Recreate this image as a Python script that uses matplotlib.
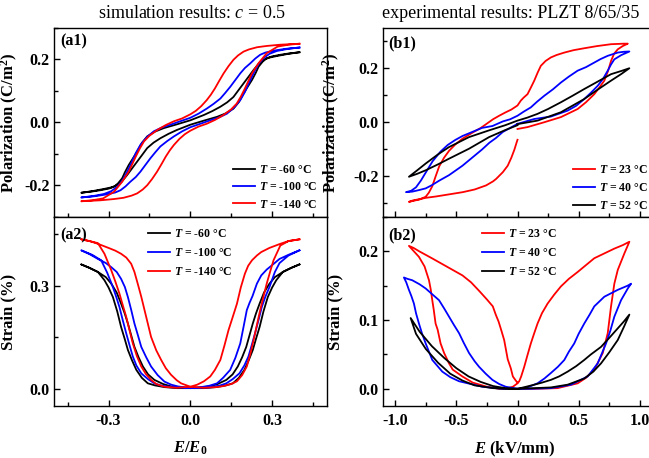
import matplotlib
matplotlib.use("Agg")
import matplotlib.pyplot as plt
from matplotlib.ticker import MultipleLocator

plt.rcParams['font.family'] = 'Liberation Serif'
plt.rcParams['font.weight'] = 'bold'
plt.rcParams['mathtext.fontset'] = 'custom'
plt.rcParams['mathtext.rm'] = 'Liberation Serif:bold'
plt.rcParams['mathtext.bf'] = 'Liberation Serif:bold'
plt.rcParams['mathtext.it'] = 'Liberation Serif:italic:normal'
plt.rcParams['mathtext.bfit'] = 'Liberation Serif:bold:italic'
plt.rcParams['axes.unicode_minus'] = False

# ---- (a1) simulated P-E loops, c = 0.5 ----
sim_labels = [r"$\mathbfit{T}$ = -60 °C", r"$\mathbfit{T}$ = -100 °C", r"$\mathbfit{T}$ = -140 °C"]
sim_colors = ['black', 'blue', 'red']

# descending branch (+0.4 -> -0.4) then ascending branch (-0.4 -> +0.4)
a1_E_60 = [0.40, 0.36, 0.317, 0.29, 0.268, 0.25, 0.232, 0.214, 0.195, 0.176, 0.158, 0.135, 0.11, 0.08, 0.05, 0.0,
           -0.05, -0.098, -0.13, -0.158, -0.178, -0.195, -0.21, -0.226, -0.24, -0.25, -0.265, -0.28, -0.30, -0.33, -0.36, -0.40,
           -0.36, -0.317, -0.29, -0.268, -0.25, -0.232, -0.214, -0.195, -0.176, -0.158, -0.135, -0.11, -0.08, -0.05, 0.0,
           0.05, 0.098, 0.13, 0.158, 0.178, 0.195, 0.21, 0.226, 0.24, 0.25, 0.265, 0.28, 0.30, 0.33, 0.36, 0.40]
a1_P_60 = [0.223, 0.218, 0.211, 0.206, 0.199, 0.186, 0.167, 0.146, 0.124, 0.102, 0.081, 0.064, 0.050, 0.036, 0.024, 0.007,
           -0.006, -0.018, -0.029, -0.044, -0.065, -0.092, -0.113, -0.135, -0.158, -0.177, -0.193, -0.204, -0.210, -0.215, -0.219, -0.223,
           -0.218, -0.211, -0.206, -0.199, -0.186, -0.167, -0.146, -0.124, -0.102, -0.081, -0.064, -0.050, -0.036, -0.024, -0.007,
           0.006, 0.018, 0.029, 0.044, 0.065, 0.092, 0.113, 0.135, 0.158, 0.177, 0.193, 0.204, 0.210, 0.215, 0.219, 0.223]

a1_E_100 = [0.40, 0.35, 0.305, 0.275, 0.256, 0.238, 0.22, 0.2, 0.183, 0.165, 0.146, 0.128, 0.11, 0.085, 0.06, 0.03, 0.0,
            -0.04, -0.073, -0.105, -0.134, -0.16, -0.183, -0.2, -0.214, -0.226, -0.238, -0.252, -0.268, -0.29, -0.317, -0.36, -0.40,
            -0.35, -0.305, -0.275, -0.256, -0.238, -0.22, -0.2, -0.183, -0.165, -0.146, -0.128, -0.11, -0.085, -0.06, -0.03, 0.0,
            0.04, 0.073, 0.105, 0.134, 0.16, 0.183, 0.2, 0.214, 0.226, 0.238, 0.252, 0.268, 0.29, 0.317, 0.36, 0.40]
a1_P_100 = [0.238, 0.234, 0.228, 0.222, 0.215, 0.203, 0.188, 0.173, 0.156, 0.135, 0.113, 0.094, 0.076, 0.059, 0.044, 0.028, 0.015,
            0.003, -0.007, -0.016, -0.028, -0.047, -0.071, -0.097, -0.124, -0.146, -0.167, -0.188, -0.204, -0.218, -0.227, -0.234, -0.238,
            -0.234, -0.228, -0.222, -0.215, -0.203, -0.188, -0.173, -0.156, -0.135, -0.113, -0.094, -0.076, -0.059, -0.044, -0.028, -0.015,
            -0.003, 0.007, 0.016, 0.028, 0.047, 0.071, 0.097, 0.124, 0.146, 0.167, 0.188, 0.204, 0.218, 0.227, 0.234, 0.238]

a1_E_140 = [0.40, 0.33, 0.28, 0.245, 0.215, 0.195, 0.175, 0.158, 0.14, 0.122, 0.105, 0.09, 0.075, 0.06, 0.04, 0.02, 0.0,
            -0.03, -0.06, -0.09, -0.12, -0.15, -0.17, -0.185, -0.20, -0.213, -0.226, -0.25, -0.28, -0.32, -0.36, -0.40,
            -0.33, -0.28, -0.245, -0.215, -0.195, -0.175, -0.158, -0.14, -0.122, -0.105, -0.09, -0.075, -0.06, -0.04, -0.02, 0.0,
            0.03, 0.06, 0.09, 0.12, 0.15, 0.17, 0.185, 0.20, 0.213, 0.226, 0.25, 0.28, 0.32, 0.36, 0.40]
a1_P_140 = [0.250, 0.247, 0.243, 0.239, 0.232, 0.225, 0.213, 0.199, 0.179, 0.156, 0.131, 0.108, 0.088, 0.071, 0.052, 0.037, 0.026,
            0.013, 0.004, -0.008, -0.023, -0.042, -0.060, -0.082, -0.108, -0.132, -0.156, -0.188, -0.220, -0.241, -0.247, -0.250,
            -0.247, -0.243, -0.239, -0.232, -0.225, -0.213, -0.199, -0.179, -0.156, -0.131, -0.108, -0.088, -0.071, -0.052, -0.037, -0.026,
            -0.013, -0.004, 0.008, 0.023, 0.042, 0.060, 0.082, 0.108, 0.132, 0.156, 0.188, 0.220, 0.241, 0.247, 0.250]

# ---- (a2) simulated strain loops ----
a2_E_60 = [0.40, 0.37, 0.339, 0.31, 0.29, 0.27, 0.254, 0.241, 0.229, 0.217, 0.205, 0.19, 0.174, 0.155, 0.132, 0.1, 0.071, 0.035, 0.0,
           -0.05, -0.095, -0.13, -0.156, -0.178, -0.198, -0.214, -0.229, -0.241, -0.254, -0.268, -0.284, -0.3, -0.315, -0.339, -0.37, -0.40,
           -0.37, -0.339, -0.31, -0.29, -0.27, -0.254, -0.241, -0.229, -0.217, -0.205, -0.19, -0.174, -0.155, -0.132, -0.1, -0.071, -0.035, 0.0,
           0.05, 0.095, 0.13, 0.156, 0.178, 0.198, 0.214, 0.229, 0.241, 0.254, 0.268, 0.284, 0.3, 0.315, 0.339, 0.37, 0.40]
a2_S_60 = [0.362, 0.352, 0.340, 0.325, 0.306, 0.280, 0.248, 0.220, 0.190, 0.156, 0.122, 0.092, 0.065, 0.042, 0.026, 0.014, 0.007, 0.004, 0.002,
           0.002, 0.005, 0.010, 0.016, 0.032, 0.055, 0.083, 0.113, 0.146, 0.180, 0.225, 0.267, 0.295, 0.316, 0.340, 0.352, 0.362,
           0.352, 0.340, 0.325, 0.306, 0.280, 0.248, 0.220, 0.190, 0.156, 0.122, 0.092, 0.065, 0.042, 0.026, 0.014, 0.007, 0.004, 0.002,
           0.002, 0.005, 0.010, 0.016, 0.032, 0.055, 0.083, 0.113, 0.146, 0.180, 0.225, 0.267, 0.295, 0.316, 0.340, 0.352, 0.362]

a2_E_100 = [0.40, 0.36, 0.327, 0.30, 0.28, 0.26, 0.244, 0.228, 0.217, 0.207, 0.195, 0.183, 0.165, 0.146, 0.12, 0.098, 0.07, 0.04, 0.0,
            -0.071, -0.11, -0.132, -0.155, -0.18, -0.198, -0.211, -0.223, -0.235, -0.248, -0.26, -0.272, -0.284, -0.305, -0.327, -0.36, -0.40,
            -0.37, -0.339, -0.31, -0.29, -0.27, -0.254, -0.24, -0.229, -0.217, -0.205, -0.192, -0.18, -0.162, -0.144, -0.12, -0.095, -0.07, -0.046, 0.0,
            0.07, 0.11, 0.132, 0.155, 0.18, 0.198, 0.213, 0.225, 0.237, 0.25, 0.262, 0.275, 0.29, 0.31, 0.327, 0.36, 0.40]
a2_S_100 = [0.403, 0.390, 0.378, 0.360, 0.347, 0.330, 0.306, 0.270, 0.250, 0.229, 0.180, 0.132, 0.090, 0.055, 0.032, 0.016, 0.009, 0.005, 0.002,
            0.005, 0.010, 0.016, 0.028, 0.045, 0.068, 0.094, 0.127, 0.161, 0.200, 0.238, 0.268, 0.296, 0.338, 0.374, 0.390, 0.403,
            0.392, 0.378, 0.366, 0.354, 0.340, 0.320, 0.296, 0.267, 0.230, 0.190, 0.155, 0.122, 0.092, 0.065, 0.040, 0.021, 0.012, 0.007, 0.002,
            0.004, 0.010, 0.016, 0.028, 0.045, 0.068, 0.094, 0.127, 0.161, 0.200, 0.238, 0.268, 0.296, 0.340, 0.366, 0.388, 0.403]

a2_E_140 = [0.40, 0.36, 0.33, 0.29, 0.26, 0.244, 0.226, 0.212, 0.20, 0.185, 0.171, 0.155, 0.14, 0.125, 0.11, 0.09, 0.073, 0.05, 0.025, 0.0,
            -0.05, -0.095, -0.125, -0.144, -0.163, -0.18, -0.196, -0.211, -0.223, -0.235, -0.248, -0.26, -0.275, -0.29, -0.315, -0.339, -0.37, -0.40,
            -0.37, -0.339, -0.30, -0.275, -0.254, -0.235, -0.217, -0.205, -0.193, -0.18, -0.168, -0.156, -0.144, -0.125, -0.107, -0.09, -0.071, -0.05, -0.034, 0.0,
            0.05, 0.095, 0.122, 0.15, 0.171, 0.19, 0.207, 0.22, 0.232, 0.244, 0.256, 0.268, 0.28, 0.293, 0.305, 0.33, 0.36, 0.40]
a2_S_140 = [0.435, 0.430, 0.422, 0.410, 0.398, 0.388, 0.374, 0.358, 0.335, 0.295, 0.248, 0.208, 0.171, 0.126, 0.084, 0.055, 0.036, 0.022, 0.012, 0.006,
            0.003, 0.006, 0.014, 0.026, 0.043, 0.065, 0.095, 0.132, 0.170, 0.209, 0.244, 0.277, 0.312, 0.345, 0.393, 0.424, 0.430, 0.435,
            0.430, 0.422, 0.410, 0.402, 0.393, 0.382, 0.364, 0.340, 0.306, 0.268, 0.229, 0.190, 0.151, 0.112, 0.084, 0.060, 0.041, 0.025, 0.016, 0.006,
            0.003, 0.005, 0.008, 0.014, 0.022, 0.040, 0.065, 0.102, 0.142, 0.186, 0.229, 0.268, 0.306, 0.342, 0.374, 0.417, 0.430, 0.435]

# ---- (b1) measured P-E loops, PLZT 8/65/35 ----
exp_labels = [r"$\mathbfit{T}$ = 23 °C", r"$\mathbfit{T}$ = 40 °C", r"$\mathbfit{T}$ = 52 °C"]
exp_colors = ['red', 'blue', 'black']

b1_E_23 = [0.0, 0.082, 0.219, 0.355, 0.492, 0.56, 0.628, 0.67, 0.71, 0.74, 0.765, 0.79, 0.82, 0.86, 0.902,
           0.87, 0.82, 0.765, 0.65, 0.546, 0.46, 0.383, 0.32, 0.273, 0.23, 0.191, 0.165, 0.137, 0.11, 0.082, 0.05, 0.027, 0.0,
           -0.05, -0.1, -0.15, -0.2, -0.25, -0.3, -0.37, -0.45, -0.51, -0.56, -0.6, -0.64, -0.67, -0.697, -0.725, -0.751, -0.8, -0.84, -0.888,
           -0.858, -0.75, -0.667, -0.53, -0.448, -0.35, -0.257, -0.2, -0.175, -0.12, -0.08, -0.05, -0.025, -0.008, 0.0]
b1_P_23 = [-0.024, -0.017, 0.001, 0.020, 0.050, 0.075, 0.105, 0.130, 0.155, 0.190, 0.228, 0.255, 0.271, 0.283, 0.292,
           0.292, 0.291, 0.290, 0.283, 0.275, 0.268, 0.259, 0.250, 0.241, 0.228, 0.210, 0.185, 0.155, 0.130, 0.105, 0.092, 0.081, 0.063,
           0.048, 0.037, 0.025, 0.012, -0.004, -0.020, -0.038, -0.060, -0.082, -0.105, -0.130, -0.162, -0.200, -0.236, -0.260, -0.275, -0.285, -0.289, -0.294,
           -0.289, -0.279, -0.274, -0.264, -0.258, -0.248, -0.233, -0.218, -0.209, -0.184, -0.160, -0.130, -0.100, -0.075, -0.064]

b1_E_40 = [0.0, 0.137, 0.273, 0.41, 0.48, 0.546, 0.6, 0.656, 0.7, 0.738, 0.765, 0.792, 0.85, 0.915,
           0.87, 0.82, 0.738, 0.68, 0.628, 0.56, 0.492, 0.42, 0.355, 0.29, 0.219, 0.16, 0.109, 0.05, 0.0,
           -0.06, -0.12, -0.205, -0.29, -0.37, -0.45, -0.51, -0.57, -0.63, -0.695, -0.75, -0.79, -0.83, -0.87, -0.912,
           -0.86, -0.803, -0.751, -0.7, -0.639, -0.56, -0.45, -0.37, -0.29, -0.23, -0.178, -0.12, -0.068, 0.0]
b1_P_40 = [-0.005, 0.013, 0.022, 0.044, 0.062, 0.087, 0.110, 0.136, 0.162, 0.192, 0.215, 0.234, 0.250, 0.263,
           0.262, 0.259, 0.247, 0.235, 0.222, 0.205, 0.192, 0.170, 0.148, 0.123, 0.099, 0.077, 0.056, 0.040, 0.025,
           0.012, 0.004, -0.013, -0.020, -0.035, -0.050, -0.065, -0.083, -0.108, -0.144, -0.185, -0.215, -0.240, -0.253, -0.258,
           -0.256, -0.250, -0.244, -0.232, -0.215, -0.195, -0.160, -0.130, -0.100, -0.075, -0.058, -0.035, -0.022, -0.005]

b1_E_52 = [0.0, 0.164, 0.355, 0.546, 0.65, 0.765, 0.85, 0.915,
           0.85, 0.765, 0.65, 0.546, 0.45, 0.355, 0.25, 0.164, 0.08, 0.0,
           -0.1, -0.232, -0.396, -0.56, -0.65, -0.751, -0.82, -0.888,
           -0.82, -0.751, -0.65, -0.56, -0.396, -0.232, -0.1, 0.0]
b1_P_52 = [-0.006, 0.007, 0.038, 0.087, 0.120, 0.155, 0.180, 0.201,
           0.191, 0.179, 0.150, 0.124, 0.099, 0.075, 0.050, 0.032, 0.018, 0.007,
           -0.010, -0.029, -0.054, -0.091, -0.118, -0.152, -0.177, -0.201,
           -0.190, -0.177, -0.155, -0.134, -0.097, -0.054, -0.028, -0.010]

# ---- (b2) measured strain loops ----
b2_E_23 = [0.0, 0.137, 0.328, 0.492, 0.56, 0.628, 0.697, 0.738, 0.765, 0.792, 0.82, 0.874, 0.915,
           0.86, 0.792, 0.71, 0.628, 0.56, 0.492, 0.42, 0.355, 0.3, 0.246, 0.2, 0.164, 0.135, 0.109, 0.08, 0.055, 0.03, 0.014, 0.0,
           -0.038, -0.1, -0.148, -0.25, -0.366, -0.451, -0.53, -0.56, -0.6, -0.629, -0.653, -0.67, -0.685, -0.697, -0.71, -0.724, -0.76, -0.806, -0.888,
           -0.85, -0.803, -0.7, -0.6, -0.53, -0.45, -0.38, -0.311, -0.25, -0.202, -0.178, -0.155, -0.134, -0.109, -0.08, -0.055, -0.038, -0.014, 0.0]
b2_S_23 = [0.000, 0.000, 0.001, 0.008, 0.016, 0.028, 0.052, 0.081, 0.120, 0.153, 0.173, 0.197, 0.214,
           0.209, 0.204, 0.197, 0.190, 0.180, 0.170, 0.160, 0.149, 0.137, 0.124, 0.110, 0.095, 0.080, 0.066, 0.048, 0.032, 0.018, 0.011, 0.008,
           0.003, 0.000, 0.000, 0.003, 0.009, 0.018, 0.028, 0.037, 0.052, 0.066, 0.086, 0.095, 0.115, 0.129, 0.145, 0.158, 0.178, 0.192, 0.208,
           0.205, 0.200, 0.190, 0.180, 0.173, 0.165, 0.155, 0.142, 0.130, 0.120, 0.108, 0.098, 0.086, 0.071, 0.043, 0.030, 0.018, 0.012, 0.009]

b2_E_40 = [0.0, 0.1, 0.273, 0.437, 0.574, 0.656, 0.724, 0.76, 0.792, 0.847, 0.902, 0.929,
           0.9, 0.82, 0.71, 0.628, 0.59, 0.546, 0.5, 0.464, 0.42, 0.383, 0.33, 0.273, 0.22, 0.164, 0.08, 0.0,
           -0.123, -0.287, -0.478, -0.55, -0.615, -0.697, -0.751, -0.78, -0.806, -0.83, -0.847, -0.868, -0.888, -0.91, -0.929,
           -0.9, -0.861, -0.8, -0.751, -0.7, -0.642, -0.6, -0.56, -0.52, -0.478, -0.44, -0.396, -0.35, -0.314, -0.26, -0.205, -0.15, -0.096, 0.0]
b2_S_40 = [0.000, 0.000, 0.001, 0.006, 0.018, 0.037, 0.066, 0.085, 0.105, 0.129, 0.146, 0.153,
           0.150, 0.144, 0.134, 0.120, 0.108, 0.095, 0.080, 0.066, 0.054, 0.042, 0.032, 0.023, 0.015, 0.008, 0.002, 0.000,
           0.000, 0.003, 0.011, 0.017, 0.025, 0.042, 0.066, 0.080, 0.095, 0.110, 0.124, 0.135, 0.144, 0.155, 0.162,
           0.160, 0.158, 0.152, 0.146, 0.138, 0.129, 0.117, 0.105, 0.093, 0.081, 0.067, 0.052, 0.040, 0.032, 0.022, 0.013, 0.007, 0.003, 0.000]

b2_E_52 = [0.0, 0.137, 0.273, 0.41, 0.546, 0.62, 0.683, 0.75, 0.82, 0.87, 0.915,
           0.87, 0.82, 0.75, 0.683, 0.6, 0.546, 0.48, 0.41, 0.34, 0.273, 0.2, 0.137, 0.07, 0.0,
           -0.1, -0.2, -0.35, -0.45, -0.55, -0.65, -0.75, -0.83, -0.874,
           -0.8, -0.7, -0.6, -0.5, -0.4, -0.3, -0.2, -0.1, 0.0]
b2_S_52 = [0.000, 0.001, 0.002, 0.006, 0.015, 0.025, 0.037, 0.053, 0.071, 0.090, 0.108,
           0.098, 0.088, 0.074, 0.061, 0.050, 0.042, 0.033, 0.025, 0.018, 0.013, 0.009, 0.006, 0.003, 0.000,
           0.000, 0.001, 0.005, 0.012, 0.022, 0.038, 0.058, 0.080, 0.103,
           0.083, 0.062, 0.045, 0.030, 0.018, 0.010, 0.004, 0.001, 0.000]

fig = plt.figure(figsize=(6.49, 4.58), dpi=100)
W, H = 649.0, 458.0

def box(x0, x1, y0, y1):
    # pixel box -> figure fraction rect
    return [x0 / W, 1 - y1 / H, (x1 - x0) / W, (y1 - y0) / H]

ax_a1 = fig.add_axes(box(54, 326.7, 28, 217))
ax_a2 = fig.add_axes(box(54, 326.7, 217, 406))
ax_b1 = fig.add_axes(box(383, 652, 28, 217))
ax_b2 = fig.add_axes(box(383, 652, 217, 406))

lw = 1.3
for E, P, c, lab in zip([a1_E_60, a1_E_100, a1_E_140], [a1_P_60, a1_P_100, a1_P_140], sim_colors, sim_labels):
    ax_a1.plot(E, P, color=c, lw=lw, label=lab)
for E, S, c, lab in zip([a2_E_60, a2_E_100, a2_E_140], [a2_S_60, a2_S_100, a2_S_140], sim_colors, sim_labels):
    ax_a2.plot(E, S, color=c, lw=lw, label=lab)
for E, P, c, lab in zip([b1_E_23, b1_E_40, b1_E_52], [b1_P_23, b1_P_40, b1_P_52], exp_colors, exp_labels):
    ax_b1.plot(E, P, color=c, lw=lw, label=lab)
for E, S, c, lab in zip([b2_E_23, b2_E_40, b2_E_52], [b2_S_23, b2_S_40, b2_S_52], exp_colors, exp_labels):
    ax_b2.plot(E, S, color=c, lw=lw, label=lab)

ax_a1.set_xlim(-0.5, 0.5)
ax_a2.set_xlim(-0.5, 0.5)
ax_a1.set_ylim(-0.3, 0.3)
ax_a2.set_ylim(-0.05, 0.5)
ax_b1.set_xlim(-1.1, 1.1)
ax_b2.set_xlim(-1.1, 1.1)
ax_b1.set_ylim(-0.35, 0.35)
ax_b2.set_ylim(-0.025, 0.25)

for ax in [ax_a1, ax_a2]:
    ax.xaxis.set_major_locator(MultipleLocator(0.3))
    ax.xaxis.set_minor_locator(MultipleLocator(0.15))
for ax in [ax_b1, ax_b2]:
    ax.xaxis.set_major_locator(MultipleLocator(0.5))
    ax.xaxis.set_minor_locator(MultipleLocator(0.25))
ax_a1.yaxis.set_major_locator(MultipleLocator(0.2))
ax_a1.yaxis.set_minor_locator(MultipleLocator(0.1))
ax_a2.yaxis.set_major_locator(MultipleLocator(0.3))
ax_a2.yaxis.set_minor_locator(MultipleLocator(0.15))
ax_b1.yaxis.set_major_locator(MultipleLocator(0.2))
ax_b1.yaxis.set_minor_locator(MultipleLocator(0.1))
ax_b2.yaxis.set_major_locator(MultipleLocator(0.1))
ax_b2.yaxis.set_minor_locator(MultipleLocator(0.05))

for ax in [ax_a1, ax_a2, ax_b1, ax_b2]:
    ax.tick_params(which='both', direction='in', top=False, right=False, labelsize=11.5, width=1)
    ax.tick_params(which='major', length=4)
    ax.tick_params(which='minor', length=3)
    ax.tick_params(axis='x', pad=5)
    ax.tick_params(axis='y', pad=3)
    for lab in ax.get_xticklabels() + ax.get_yticklabels():
        lab.set_fontweight('bold')
    for s in ax.spines.values():
        s.set_linewidth(1.0)
for ax in [ax_a1, ax_b1]:
    ax.tick_params(labelbottom=False)

lab_kw = dict(fontsize=12, fontweight='bold')
ax_a1.set_ylabel(r"Polarization (C/m$^2$)", **lab_kw)
ax_a2.set_ylabel("Strain (%)", **lab_kw)
ax_b1.set_ylabel(r"Polarization (C/m$^2$)", **lab_kw)
ax_b2.set_ylabel("Strain (%)", **lab_kw)
ax_a1.yaxis.set_label_coords(-0.126, 0.5)
ax_a2.yaxis.set_label_coords(-0.137, 0.5)
ax_b1.yaxis.set_label_coords(-0.154, 0.5)
ax_b2.yaxis.set_label_coords(-0.149, 0.5)
ax_a2.set_xlabel(r"$\mathbfit{E}$/$\mathbfit{E}_0$", **lab_kw)
ax_b2.set_xlabel(r"$\mathbfit{E}$ (kV/mm)", **lab_kw)
ax_a2.xaxis.set_label_coords(0.5, -0.18)
ax_b2.xaxis.set_label_coords(0.49, -0.18)

pan_kw = dict(fontsize=11.5, fontweight='bold', va='center')
ax_a1.text(0.022, 0.93, "(a1)", transform=ax_a1.transAxes, **pan_kw)
ax_a2.text(0.022, 0.905, "(a2)", transform=ax_a2.transAxes, **pan_kw)
ax_b1.text(0.02, 0.92, "(b1)", transform=ax_b1.transAxes, **pan_kw)
ax_b2.text(0.02, 0.905, "(b2)", transform=ax_b2.transAxes, **pan_kw)

leg_kw = dict(frameon=False, handlelength=1.9, handletextpad=0.3,
              borderpad=0, borderaxespad=0, loc='upper left',
              prop={'family': 'Liberation Serif', 'weight': 'bold', 'size': 8.5})
ax_a1.legend(bbox_to_anchor=(233 / W, 1 - 164 / H), bbox_transform=fig.transFigure, labelspacing=0.45, **leg_kw)
ax_a2.legend(bbox_to_anchor=(148 / W, 1 - 228 / H), bbox_transform=fig.transFigure, labelspacing=0.6, **leg_kw)
ax_b1.legend(bbox_to_anchor=(573 / W, 1 - 164 / H), bbox_transform=fig.transFigure, labelspacing=0.5, **leg_kw)
ax_b2.legend(bbox_to_anchor=(482 / W, 1 - 228 / H), bbox_transform=fig.transFigure, labelspacing=0.6, **leg_kw)

fig.text(192 / W, 1 - 13 / H, "simulation results: $c$ = 0.5", fontsize=13, fontweight='normal',
         ha='center', va='center')
fig.text(382 / W, 1 - 13 / H, "experimental results: PLZT 8/65/35", fontsize=13, fontweight='normal',
         ha='left', va='center')

fig.savefig("out.png", dpi=100)
